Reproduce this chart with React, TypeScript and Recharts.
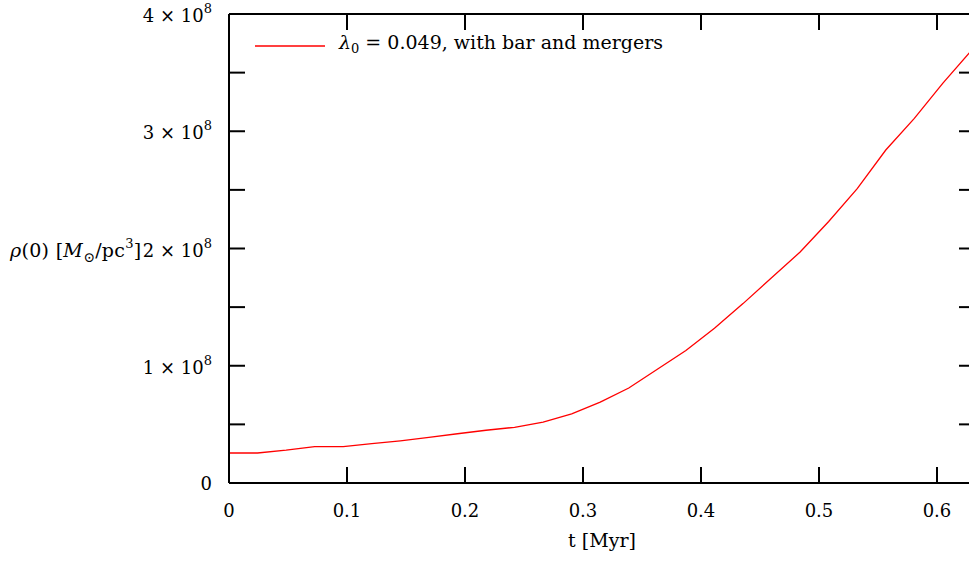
import { LineChart, Line, XAxis, YAxis, Legend } from "recharts";

const FONT = "'DejaVu Serif', 'Liberation Serif', serif";

// t [Myr]
const times = [
  0, 0.0242, 0.0484, 0.0726, 0.0968, 0.121, 0.1452, 0.1694, 0.1936, 0.2178,
  0.242, 0.2662, 0.2904, 0.3146, 0.3388, 0.363, 0.3872, 0.4114, 0.4356,
  0.4598, 0.484, 0.5082, 0.5324, 0.5566, 0.5808, 0.605, 0.6292,
];
// rho(0) in units of 1e8 Msun/pc^3
const density = [
  0.256, 0.256, 0.28, 0.31, 0.31, 0.335, 0.36, 0.39, 0.42, 0.45, 0.475, 0.52,
  0.59, 0.69, 0.81, 0.97, 1.13, 1.32, 1.53, 1.75, 1.97, 2.23, 2.51, 2.84, 3.11,
  3.41, 3.69,
];
const xTicks = [0, 0.1, 0.2, 0.3, 0.4, 0.5, 0.6];
const yTicks = [0, 0.5, 1, 1.5, 2, 2.5, 3, 3.5, 4];
const seriesName = "λ0 = 0.049, with bar and mergers";

const data = times.map((t, i) => ({ t, rho: density[i] }));

const EmptyTick = () => <g />;

function YTick(props: any) {
  const { x, y, payload } = props;
  const v = payload.value;
  if (!Number.isInteger(v)) return <g />;
  if (v === 0) {
    return (
      <text x={x} y={y + 7} textAnchor="end" fontFamily={FONT} fontSize={18} fill="#000">
        0
      </text>
    );
  }
  return (
    <text x={x} y={y + 8} textAnchor="end" fontFamily={FONT} fontSize={18} fill="#000">
      {`${v} × 10`}
      <tspan fontSize={13} dy={-9}>
        8
      </tspan>
    </text>
  );
}

function XTick(props: any) {
  const { x, y, payload } = props;
  return (
    <text x={x} y={y + 16} textAnchor="middle" fontFamily={FONT} fontSize={18} fill="#000">
      {payload.value}
    </text>
  );
}

function XLabel({ viewBox }: any) {
  return (
    <text
      x={viewBox.x + viewBox.width / 2}
      y={viewBox.y + 64}
      textAnchor="middle"
      fontFamily={FONT}
      fontSize={19}
      fill="#000"
    >
      t [Myr]
    </text>
  );
}

function YLabel({ viewBox }: any) {
  return (
    <text
      x={10}
      y={viewBox.y + viewBox.height / 2 + 8}
      fontFamily={FONT}
      fontSize={19}
      letterSpacing={0.3}
      fill="#000"
    >
      <tspan fontStyle="italic">ρ</tspan>
      <tspan>(0) [</tspan>
      <tspan fontStyle="italic">M</tspan>
      <tspan fontSize={14} dy={5}>
        ⊙
      </tspan>
      <tspan dy={-5}>/pc</tspan>
      <tspan fontSize={13} dy={-9}>
        3
      </tspan>
      <tspan dy={9}>]</tspan>
    </text>
  );
}

function LegendBox() {
  return (
    <div
      style={{
        display: "flex",
        alignItems: "center",
        fontFamily: FONT,
        fontSize: 19,
        lineHeight: "26px",
        whiteSpace: "nowrap",
        color: "#000",
      }}
    >
      <svg width={70} height={4} style={{ display: "block" }}>
        <line x1={0} x2={70} y1={2} y2={2} stroke="#ff0000" strokeWidth={1.3} />
      </svg>
      <span style={{ marginLeft: 14 }}>
        <i>λ</i>
        <sub style={{ fontSize: 13, verticalAlign: "-4px" }}>0</sub> = 0.049, with bar and mergers
      </span>
    </div>
  );
}

export default function App() {
  const axisStroke = { stroke: "#000", strokeWidth: 2 };
  return (
    <div
      style={{
        position: "fixed",
        left: 0,
        top: 0,
        width: 969,
        height: 565,
        overflow: "hidden",
        background: "#fff",
      }}
    >
      <LineChart
        width={976}
        height={565}
        data={data}
        margin={{ top: 13, right: 0, bottom: 0, left: 0 }}
      >
        <XAxis
          xAxisId="bottom"
          dataKey="t"
          type="number"
          domain={[0, 0.6322]}
          allowDataOverflow
          ticks={xTicks}
          interval={0}
          height={82}
          tickSize={-16}
          tickMargin={34}
          axisLine={axisStroke}
          tickLine={axisStroke}
          tick={<XTick />}
          label={<XLabel />}
        />
        <XAxis
          xAxisId="top"
          orientation="top"
          dataKey="t"
          type="number"
          domain={[0, 0.6322]}
          allowDataOverflow
          ticks={xTicks}
          interval={0}
          height={1}
          tickSize={-16}
          axisLine={axisStroke}
          tickLine={axisStroke}
          tick={<EmptyTick />}
        />
        <YAxis
          yAxisId="left"
          type="number"
          domain={[0, 4]}
          ticks={yTicks}
          interval={0}
          width={229}
          tickSize={-16}
          tickMargin={33}
          axisLine={axisStroke}
          tickLine={axisStroke}
          tick={<YTick />}
          label={<YLabel />}
        />
        <YAxis
          yAxisId="right"
          orientation="right"
          type="number"
          domain={[0, 4]}
          ticks={yTicks}
          interval={0}
          width={1}
          tickSize={-16}
          axisLine={axisStroke}
          tickLine={axisStroke}
          tick={<EmptyTick />}
        />
        <Legend
          layout="horizontal"
          verticalAlign="middle"
          align="center"
          wrapperStyle={{ position: "absolute", top: 29, left: 255, width: 520 }}
          content={() => <LegendBox />}
        />
        {/* mirror of the series on the top/right axes so their ticks get computed */}
        <Line
          xAxisId="top"
          yAxisId="right"
          dataKey="rho"
          type="linear"
          stroke="none"
          legendType="none"
          dot={false}
          activeDot={false}
          isAnimationActive={false}
        />
        <Line
          xAxisId="bottom"
          yAxisId="left"
          name={seriesName}
          dataKey="rho"
          type="linear"
          stroke="#ff0000"
          strokeWidth={1.3}
          dot={false}
          activeDot={false}
          isAnimationActive={false}
        />
      </LineChart>
    </div>
  );
}
